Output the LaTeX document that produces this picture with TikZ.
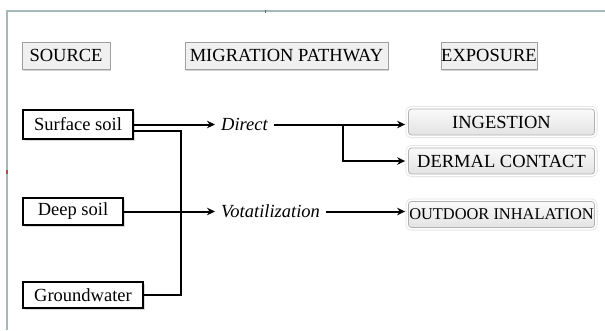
\documentclass[tikz,border=0pt]{standalone}
\usepackage{fontspec}
\setmainfont{Liberation Serif}
\usepackage{xcolor}
\usepackage{tikz}
\usetikzlibrary{shadows,arrows.meta}

\definecolor{framecol}{HTML}{A4B9BA}

\begin{document}
\begin{tikzpicture}[x=1pt,y=-1pt,
	every node/.style={font=\fontsize{18.5}{20}\selectfont, inner sep=0pt},
	header/.style={draw=gray!75, fill=gray!12, line width=1pt, minimum height=27pt,
		drop shadow={shadow xshift=1pt, shadow yshift=-1.5pt, opacity=0.35}},
	source/.style={draw=black, fill=white, line width=2pt, minimum height=27pt,
		drop shadow={shadow xshift=1.5pt, shadow yshift=-1.5pt, opacity=0.3}},
	route/.style={font=\fontsize{18.5}{20}\selectfont\itshape, inner xsep=6pt},
	expo/.style={draw=gray!60, line width=0.8pt, rounded corners=3pt,
		top color=gray!4, bottom color=gray!22, minimum width=186pt, minimum height=26pt,
		preaction={draw=gray!22, line width=6pt},
		preaction={draw=white, line width=4.4pt}},
	link/.style={line width=2pt, -{Stealth[length=8pt,width=7.5pt]}},
	joint/.style={line width=2pt}
]
	\useasboundingbox (0,0) rectangle (605,330);
	
	% frame
	\draw[framecol, line width=2pt] (7,330) -- (7,11) -- (605,11);
	\draw[gray!80!black, line width=1pt] (265,10) -- (265,12.5);
	\draw[red!40!gray, line width=2pt] (7,170) -- (7,174);
	
	% column titles
	\node[header, minimum width=88pt] (source) at (66,55.5) {SOURCE};
	\node[header, minimum width=203pt] (pathway) at (286.5,55.5) {MIGRATION PATHWAY};
	\node[header, minimum width=96pt] (exposure) at (489,55.5) {EXPOSURE};
	
	% sources
	\node[source, minimum width=110pt, minimum height=29pt] (surface) at (78,124.5) {Surface soil};
	\node[source, minimum width=100pt] (deep) at (73,211.5) {Deep soil};
	\node[source, minimum width=120pt, minimum height=26pt] (ground) at (83,295) {Groundwater};
	
	% pathways
	\node[route, anchor=west] (direct) at ([xshift=81pt]surface.east) {Direct};
	\node[route, anchor=west] (volat) at ([xshift=91pt]deep.east) {Votatilization};
	
	% exposures
	\node[expo] (ingest) at (501.5,122) {INGESTION};
	\node[expo] (dermal) at (501.5,161) {DERMAL CONTACT};
	\node[expo, font=\fontsize{16.4}{18}\selectfont] (outdoor) at (501.5,214.5) {OUTDOOR INHALATION};
	
	% connectors
	\coordinate (merge) at ([xshift=37pt]ground.east);
	\coordinate (fork) at ([xshift=69pt]direct.east);
	\draw[joint] ([yshift=-6.5pt]surface.east) -| (merge) -- (ground.east);
	\draw[link] (surface.east) -- (direct.west);
	\draw[link] (deep.east) -- (volat.west);
	\draw[link, shorten >=3pt] (direct.east) -- (direct.east -| ingest.west);
	\draw[link, shorten >=3pt] (fork) |- (dermal.west);
	\draw[link, shorten >=3pt] (volat.east) -- (volat.east -| outdoor.west);
\end{tikzpicture}
\end{document}
